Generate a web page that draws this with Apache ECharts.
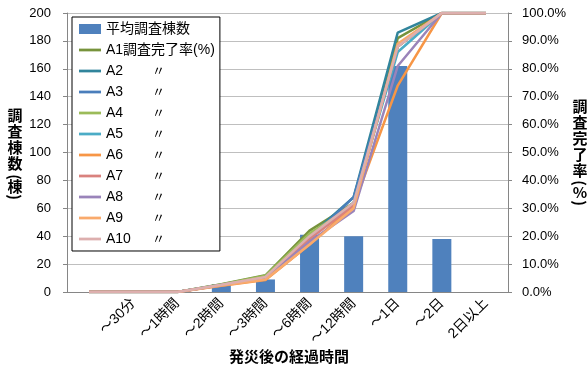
<!DOCTYPE html>
<html>
<head>
<meta charset="utf-8">
<script src="https://cdn.jsdelivr.net/npm/echarts@6/dist/echarts.min.js"></script>
<style>
  html, body { margin: 0; padding: 0; background: #fff; }
  #chart { width: 587px; height: 374px; }
</style>
</head>
<body>
<div id="chart"></div>
<script>
// Elapsed time since the disaster (first slot is the starting point, unlabeled)
const categories = ['', '～30分', '～1時間', '～2時間', '～3時間', '～6時間', '～12時間', '～1日', '～2日', '2日以上'];

// Average number of buildings surveyed per time slot
const avgSurveyed = [0, 0, 0, 5.5, 9, 41, 40, 162, 38, 0];

// Survey completion rate (%) for each area
const rateA1  = [0, 0, 0, 2.8, 6.0, 22, 32, 91, 100, 100];
const rateA2  = [0, 0, 0, 2.6, 5.5, 20, 34, 93, 100, 100];
const rateA3  = [0, 0, 0, 2.5, 5.2, 19, 34, 88, 100, 100];
const rateA4  = [0, 0, 0, 2.7, 5.8, 21, 31, 88, 100, 100];
const rateA5  = [0, 0, 0, 2.5, 5.0, 19, 32, 86, 100, 100];
const rateA6  = [0, 0, 0, 2.2, 4.3, 17, 31, 74, 100, 100];
const rateA7  = [0, 0, 0, 2.5, 5.2, 19, 31, 88, 100, 100];
const rateA8  = [0, 0, 0, 2.4, 5.0, 18, 29, 81, 100, 100];
const rateA9  = [0, 0, 0, 2.3, 4.5, 17, 30, 89, 100, 100];
const rateA10 = [0, 0, 0, 2.6, 5.4, 20, 32, 88, 100, 100];

const leftTicks = { min: 0, max: 200, interval: 20 };
const rightTicks = { min: 0, max: 100, interval: 10 };

const barName = '平均調査棟数';
const areas = [
  { name: 'A1調査完了率(%)', data: rateA1,  color: '#77933C' },
  { name: 'A2',  data: rateA2,  color: '#31859C' },
  { name: 'A3',  data: rateA3,  color: '#4A7EBB' },
  { name: 'A4',  data: rateA4,  color: '#9BBB59' },
  { name: 'A5',  data: rateA5,  color: '#4BACC6' },
  { name: 'A6',  data: rateA6,  color: '#F79646' },
  { name: 'A7',  data: rateA7,  color: '#D9827E' },
  { name: 'A8',  data: rateA8,  color: '#9A84BA' },
  { name: 'A9',  data: rateA9,  color: '#F9AA6C' },
  { name: 'A10', data: rateA10, color: '#DDAFAE' }
];

const FONT = '"Liberation Sans", "Noto Sans CJK JP", sans-serif';
const JP_BOLD = '"Noto Sans CJK JP", sans-serif';
const axisGray = '#868686';
const gridGray = '#BFBFBF';
// thin horizontal bar used as the legend marker of each line
const LINE_ICON = 'path://M0,0H24V3H0Z';

const chart = echarts.init(document.getElementById('chart'), null, { renderer: 'canvas' });

const series = [{
  name: barName,
  type: 'bar',
  yAxisIndex: 0,
  data: avgSurveyed,
  barWidth: 19,
  itemStyle: { color: '#4F81BD' },
  z: 1
}].concat(areas.map(a => ({
  name: a.name,
  type: 'line',
  yAxisIndex: 1,
  data: a.data,
  symbol: 'none',
  lineStyle: { color: a.color, width: 2.5 },
  itemStyle: { color: a.color },
  z: 3
})));

// Vertical axis titles: one glyph per element, brackets turned sideways
function verticalTitle(x, glyphs) {
  return glyphs.map(g => ({
    type: 'text',
    x: x,
    y: g[1],
    rotation: g[2] ? -Math.PI / 2 : 0,
    style: {
      text: g[0],
      font: 'bold 15px ' + JP_BOLD,
      fill: '#000',
      align: 'center',
      verticalAlign: 'middle'
    }
  }));
}

const leftTitle = verticalTitle(15, [
  ['調', 115], ['査', 131], ['棟', 147], ['数', 163],
  ['(', 177, true], ['棟', 186], [')', 197, true]
]);
const rightTitle = verticalTitle(580, [
  ['調', 106], ['査', 122], ['完', 138], ['了', 154], ['率', 170],
  ['(', 183, true], ['%', 192], [')', 203, true]
]);

chart.setOption({
  animation: false,
  backgroundColor: '#fff',
  textStyle: { fontFamily: FONT },
  grid: { left: 67, right: 79, top: 13, bottom: 82, containLabel: false },
  legend: {
    orient: 'vertical',
    left: 72,
    top: 17,
    padding: [5, 5, 5, 7],
    itemWidth: 22,
    itemHeight: 10,
    itemGap: 7,
    backgroundColor: '#fff',
    borderColor: '#000',
    borderWidth: 1,
    borderRadius: 0,
    data: [{ name: barName, icon: 'rect' }].concat(areas.map(a => ({
      name: a.name,
      icon: LINE_ICON,
      itemStyle: { color: a.color, borderWidth: 0 }
    }))),
    formatter: function (name) {
      if (name === barName || name === areas[0].name) return '{n|' + name + '}';
      return '{n|' + name + '}{d|〃}';
    },
    textStyle: {
      color: '#000',
      fontSize: 14,
      fontFamily: FONT,
      rich: {
        n: { fontSize: 14, fontFamily: FONT, color: '#000', width: 46 },
        d: { fontSize: 13, fontFamily: FONT, color: '#000' }
      }
    }
  },
  xAxis: {
    type: 'category',
    data: categories,
    boundaryGap: true,
    axisLine: { lineStyle: { color: axisGray, width: 1 } },
    axisTick: { alignWithLabel: true, length: 5, lineStyle: { color: axisGray } },
    axisLabel: { interval: 0, rotate: 45, margin: 9, fontSize: 14, color: '#000', fontFamily: FONT },
    splitLine: { show: false }
  },
  yAxis: [{
    type: 'value',
    min: leftTicks.min,
    max: leftTicks.max,
    interval: leftTicks.interval,
    position: 'left',
    axisLine: { show: true, lineStyle: { color: axisGray } },
    axisTick: { show: true, inside: false, length: 4, lineStyle: { color: axisGray } },
    axisLabel: { fontSize: 13, color: '#000', margin: 16, fontFamily: FONT },
    splitLine: { show: true, lineStyle: { color: gridGray, width: 1 } }
  }, {
    type: 'value',
    min: rightTicks.min,
    max: rightTicks.max,
    interval: rightTicks.interval,
    position: 'right',
    axisLine: { show: true, lineStyle: { color: axisGray } },
    axisTick: { show: true, inside: false, length: 4, lineStyle: { color: axisGray } },
    axisLabel: {
      fontSize: 13, color: '#000', margin: 14, fontFamily: FONT,
      formatter: v => v.toFixed(1) + '%'
    },
    splitLine: { show: false }
  }],
  graphic: leftTitle.concat(rightTitle).concat([{
    type: 'text',
    left: 229, top: 349,
    style: {
      text: '発災後の経過時間',
      font: 'bold 15px ' + JP_BOLD,
      fill: '#000'
    }
  }]),
  series: series
});
</script>
</body>
</html>
